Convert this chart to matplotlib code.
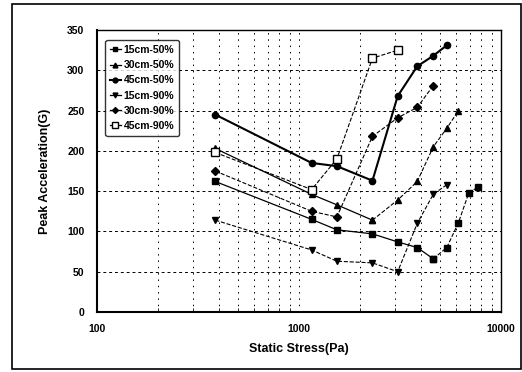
import matplotlib
matplotlib.use('Agg')
import matplotlib.pyplot as plt
from matplotlib.patches import Rectangle
from matplotlib.ticker import FixedLocator, NullFormatter

plt.rcParams['font.family'] = ['Liberation Sans', 'DejaVu Sans']

# static stress values (Pa)
stress_15_50 = [385, 1155, 1540, 2310, 3080, 3850, 4620, 5390, 6160, 6930, 7700]
accel_15_50 = [162, 115, 102, 97, 87, 80, 66, 80, 111, 148, 155]

stress_30_50 = [385, 1155, 1540, 2310, 3080, 3850, 4620, 5390, 6160]
accel_30_50 = [203, 146, 133, 114, 139, 162, 205, 228, 250]

stress_45_50 = [385, 1155, 1540, 2310, 3080, 3850, 4620, 5390]
accel_45_50 = [245, 185, 181, 163, 268, 305, 318, 331]

stress_15_90 = [385, 1155, 1540, 2310, 3080, 3850, 4620, 5390]
accel_15_90 = [114, 77, 63, 61, 50, 110, 146, 158]

stress_30_90 = [385, 1155, 1540, 2310, 3080, 3850, 4620]
accel_30_90 = [175, 125, 118, 218, 241, 254, 281]

stress_45_90 = [385, 1155, 1540, 2310, 3080]
accel_45_90 = [198, 152, 190, 315, 325]

labels = ['15cm-50%', '30cm-50%', '45cm-50%', '15cm-90%', '30cm-90%', '45cm-90%']

fig = plt.figure(figsize=(5.22, 3.72), dpi=100)
ax = fig.add_axes([97 / 522, 1 - 312 / 372, 404 / 522, 282 / 372])

# outer chart-area frame
fig.patches.append(Rectangle((12 / 522, 1 - 369 / 372), 509 / 522, 365 / 372,
                             transform=fig.transFigure, fill=False,
                             edgecolor='black', linewidth=1.2))

k = dict(color='black', markersize=4.5)

# 50% series: solid while falling, dashed where the curve rises again
ax.plot(stress_15_50[:7], accel_15_50[:7], '-', marker='s', lw=0.9, **k)
ax.plot(stress_15_50[6:], accel_15_50[6:], '--', marker='s', lw=0.8, **k)
ax.plot(stress_30_50[:4], accel_30_50[:4], '-', marker='^', lw=0.9, **k)
ax.plot(stress_30_50[3:], accel_30_50[3:], '--', marker='^', lw=0.8, **k)
ax.plot(stress_45_50, accel_45_50, '-', marker='o', lw=1.5, **k)

ax.plot(stress_15_90, accel_15_90, '--', marker='v', lw=0.8, **k)
ax.plot(stress_30_90, accel_30_90, '--', marker='D', lw=0.8, color='black', markersize=4)
ax.plot(stress_45_90, accel_45_90, '--', marker='s', lw=0.8, color='black',
        markersize=5.5, markerfacecolor='white')

# legend handles
h = [
    plt.Line2D([], [], color='black', lw=0.9, marker='s', markersize=3.5),
    plt.Line2D([], [], color='black', lw=0.9, marker='^', markersize=3.5),
    plt.Line2D([], [], color='black', lw=1.5, marker='o', markersize=3.5),
    plt.Line2D([], [], color='black', lw=0.9, marker='v', markersize=3.5),
    plt.Line2D([], [], color='black', lw=0.9, marker='D', markersize=3),
    plt.Line2D([], [], color='black', lw=0.9, marker='s', markersize=4,
               markerfacecolor='white'),
]
leg = ax.legend(h, labels, loc='upper left', bbox_to_anchor=(0.008, 0.982),
                fontsize=7.5, handlelength=1.0, handletextpad=0.3,
                labelspacing=0.5, borderpad=0.45, frameon=True, fancybox=True)
leg.get_frame().set_edgecolor('black')
leg.get_frame().set_linewidth(1.0)
for t in leg.get_texts():
    t.set_fontweight('bold')

ax.set_xscale('log')
ax.set_xlim(100, 10000)
ax.set_ylim(0, 350)
ax.set_yticks([0, 50, 100, 150, 200, 250, 300, 350])
ax.xaxis.set_major_locator(FixedLocator([100, 1000, 10000]))
ax.xaxis.set_minor_locator(FixedLocator([m * d for d in (100, 1000) for m in range(2, 10)]))
ax.xaxis.set_minor_formatter(NullFormatter())
ax.set_xticklabels(['100', '1000', '10000'])

ax.grid(True, axis='y', which='major', color='black', linestyle=(0, (3, 3)), linewidth=0.7)
ax.grid(True, axis='x', which='both', color='black', linestyle=(0, (1.5, 5)), linewidth=0.7)

ax.tick_params(axis='both', which='both', direction='in', labelsize=7.5)
ax.tick_params(axis='x', which='major', length=0, pad=9)
ax.tick_params(axis='x', which='minor', length=3)
ax.tick_params(axis='y', length=0, pad=9)
for t in ax.get_xticklabels() + ax.get_yticklabels():
    t.set_fontweight('bold')

for s in ax.spines.values():
    s.set_color('black')
    s.set_linewidth(1.0)
ax.spines['left'].set_linewidth(1.5)
ax.spines['bottom'].set_linewidth(1.5)

ax.set_xlabel('Static Stress(Pa)', fontsize=9, fontweight='bold', labelpad=6)
ax.set_ylabel('Peak Acceleration(G)', fontsize=9, fontweight='bold', labelpad=12)

fig.savefig('out.png', dpi=100)
